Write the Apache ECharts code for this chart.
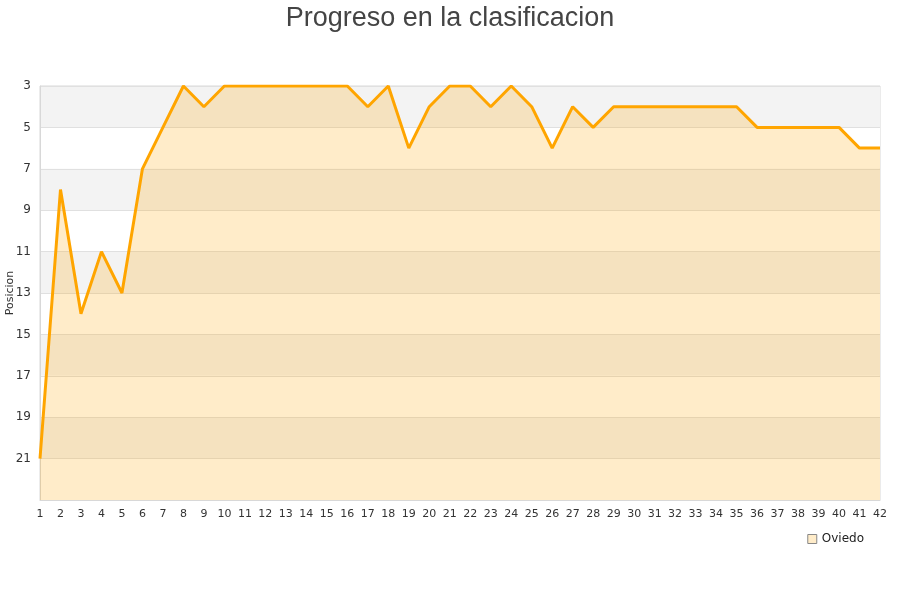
<!DOCTYPE html>
<html>
<head>
<meta charset="utf-8">
<script src="https://cdn.jsdelivr.net/npm/echarts@6/dist/echarts.min.js"></script>
<style>html,body{margin:0;padding:0;background:#fff}#c{width:900px;height:600px}</style>
</head>
<body>
<div id="c"></div>
<script>
const jornadas = ['1','2','3','4','5','6','7','8','9','10','11','12','13','14','15','16','17','18','19','20','21','22','23','24','25','26','27','28','29','30','31','32','33','34','35','36','37','38','39','40','41','42'];
const posiciones = [21,8,14,11,13,7,5,3,4,3,3,3,3,3,3,3,4,3,6,4,3,3,4,3,4,6,4,5,4,4,4,4,4,4,4,5,5,5,5,5,6,6];
const seriesName = 'Oviedo';
const titleText = 'Progreso en la clasificacion';
const yName = 'Posicion';

const chart = echarts.init(document.getElementById('c'), null, {renderer: 'canvas'});
chart.setOption({
  animation: false,
  backgroundColor: '#fff',
  title: {
    text: titleText, left: 'center', top: 0,
    textStyle: {fontFamily: 'Liberation Sans', fontSize: 27, fontWeight: 'normal', color: '#444'}
  },
  legend: {
    right: 31, top: 528, icon: 'rect', itemWidth: 9, itemHeight: 9, itemGap: 10,
    textStyle: {fontFamily: 'DejaVu Sans', fontSize: 12, color: '#222'},
    data: [{name: seriesName, itemStyle: {color: 'rgba(255,165,0,0.21)', opacity: 1, borderColor: '#888', borderWidth: 1}}]
  },
  grid: {left: 40, right: 20, top: 86, bottom: 100, outerBoundsMode: 'none', containLabel: false,
    show: true, borderColor: '#d8d8d8', borderWidth: 1, backgroundColor: 'transparent'},
  xAxis: {
    type: 'category', data: jornadas, boundaryGap: false,
    axisLine: {show: true, lineStyle: {color: '#d8d8d8'}},
    axisTick: {show: false},
    axisLabel: {interval: 0, fontFamily: 'DejaVu Sans', fontSize: 11, color: '#333', margin: 9},
    splitLine: {show: false}
  },
  yAxis: {
    type: 'value', inverse: true, min: 3, max: 23, interval: 2,
    name: yName, nameLocation: 'middle', nameGap: 30, nameRotate: 90, nameMoveOverlap: false,
    nameTextStyle: {fontFamily: 'DejaVu Sans', fontSize: 11, color: '#333', verticalAlign: 'middle'},
    axisLine: {show: true, lineStyle: {color: '#d8d8d8'}},
    axisTick: {show: false},
    axisLabel: {fontFamily: 'DejaVu Sans', fontSize: 12, color: '#333', margin: 9,
      formatter: v => (v === 23 ? '' : v)},
    splitLine: {show: true, lineStyle: {color: '#e0e0e0', width: 1}},
    splitArea: {show: true, areaStyle: {color: ['#f3f3f3', '#ffffff']}}
  },
  series: [{
    name: seriesName, type: 'line', data: posiciones,
    showSymbol: false, symbol: 'none',
    lineStyle: {color: '#FFA500', width: 3},
    itemStyle: {color: '#FFA500'},
    areaStyle: {color: 'rgba(255,165,0,0.21)', opacity: 1, origin: 'end'}
  }]
});
</script>
</body>
</html>
